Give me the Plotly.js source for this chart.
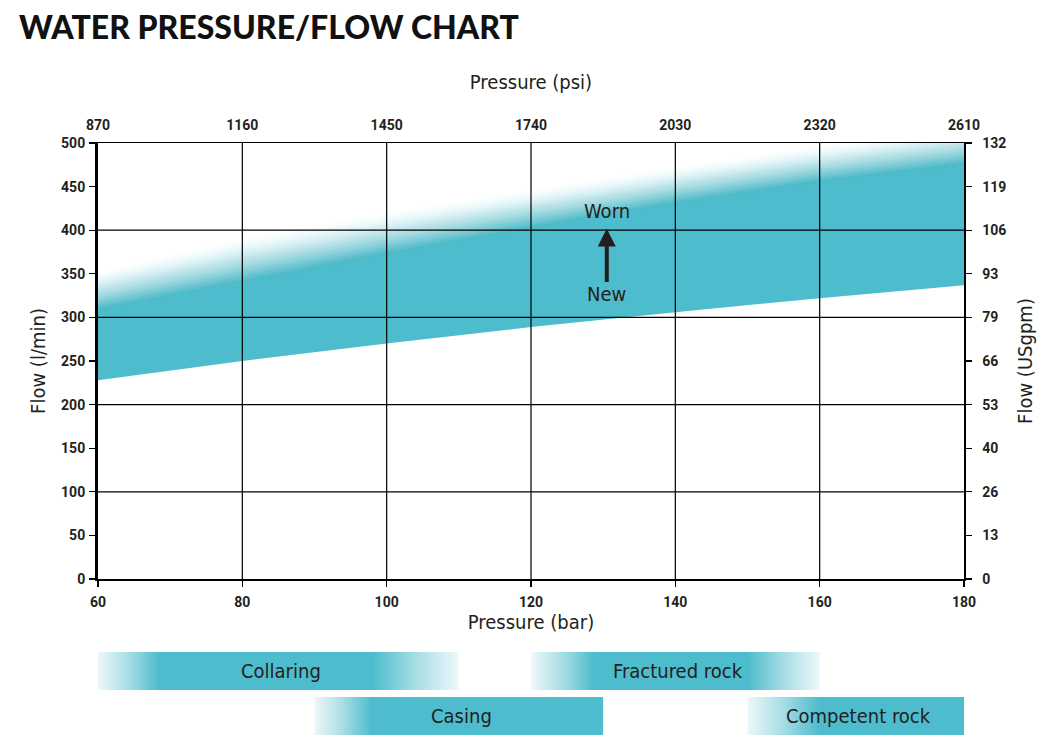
<!DOCTYPE html>
<html>
<head>
<meta charset="utf-8">
<script src="https://cdn.plot.ly/plotly-3.0.1.min.js"></script>
<style>
html,body{margin:0;padding:0;background:#fff;}
#chart{width:1055px;height:750px;}
</style>
</head>
<body>
<div id="chart"></div>
<script>
// ---- data ----
const pressureBar = [60, 80, 100, 120, 140, 160, 180];
const pressurePsi = ['870', '1160', '1450', '1740', '2030', '2320', '2610'];
const flowLmin = [0, 50, 100, 150, 200, 250, 300, 350, 400, 450, 500];
const flowUSgpm = ['0', '13', '26', '40', '53', '66', '79', '93', '106', '119', '132'];
const gridFlow = [100, 200, 300, 400];
const gridPressure = [80, 100, 120, 140, 160];

const bandPressure = [60, 80, 100, 120, 140, 160, 180];
const newFlow = [228, 250, 270, 289, 306, 322, 337];
const wornFlow = [308, 340, 372, 402, 430, 455, 475];
const wornFadeTop = [354, 392, 422, 448, 474, 498, 520];

const arrowPressure = 130.5;
const arrowFrom = 339;
const arrowTo = 402;
const wornLabelFlow = 422;
const newLabelFlow = 327;

const rangeNames = ['Collaring', 'Casing', 'Fractured rock', 'Competent rock'];
const rangeStart = [60, 90, 120, 150];
const rangeEnd = [110, 130, 160, 180];
const rangeRow = [1, 0, 1, 0];
const rangeFadeLeft = [0.17, 0.2, 0.22, 0.33];
const rangeFadeRight = [0.24, 0, 0.25, 0];

// ---- style ----
const TEAL = '#4dbccc';
const TEAL_RGB = '77,188,204';
const DARK = '#231f20';
const FONT = '"DejaVu Sans Condensed", "Roboto", sans-serif';
const TICKFONT = 'Roboto, "DejaVu Sans Condensed", sans-serif';

const traces = [];
// lower edge (new)
traces.push({x: bandPressure, y: newFlow, mode: 'lines', line: {width: 0},
  hoverinfo: 'skip', showlegend: false, xaxis: 'x', yaxis: 'y'});
// solid band up to worn
traces.push({x: bandPressure, y: wornFlow, mode: 'lines', line: {width: 0},
  fill: 'tonexty', fillcolor: TEAL, hoverinfo: 'skip', showlegend: false, xaxis: 'x', yaxis: 'y'});

// fade above the worn edge: overlapping translucent layers, composite alpha follows f(t)
const N = 20;
const f = t => Math.pow(1 - t, 1.5);
const A = [];
for (let j = 1; j <= N; j++) A[j] = f((j - 0.5) / N);
A[N + 1] = 0;
const revX = bandPressure.slice().reverse();
const revWorn = wornFlow.slice().reverse();
for (let j = 1; j <= N; j++) {
  const a = 1 - (1 - A[j]) / (1 - A[j + 1]);
  const t = j / N;
  const top = wornFlow.map((w, i) => w + (wornFadeTop[i] - w) * t);
  traces.push({
    x: bandPressure.concat(revX, [bandPressure[0]]),
    y: top.concat(revWorn, [top[0]]),
    mode: 'lines', line: {width: 0}, fill: 'toself',
    fillcolor: 'rgba(' + TEAL_RGB + ',' + a.toFixed(4) + ')',
    hoverinfo: 'skip', showlegend: false, xaxis: 'x', yaxis: 'y'
  });
}

// range bars in lower subplot
const ROW_H = 1, ROW_GAP = 0.184;
const annotations = [];
rangeNames.forEach((name, i) => {
  const y0 = rangeRow[i] * (ROW_H + ROW_GAP);
  const y1 = y0 + ROW_H;
  const x0 = rangeStart[i], x1 = rangeEnd[i];
  const scale = [[0, '#eef8fa'], [rangeFadeLeft[i] * 0.5, '#a6dde5'], [rangeFadeLeft[i], TEAL]];
  if (rangeFadeRight[i] > 0) {
    scale.push([1 - rangeFadeRight[i], TEAL]);
    scale.push([1 - rangeFadeRight[i] * 0.5, '#a6dde5']);
    scale.push([1, '#eef8fa']);
  } else {
    scale.push([1, TEAL]);
  }
  traces.push({
    x: [x0, x1, x1, x0, x0], y: [y0, y0, y1, y1, y0],
    mode: 'lines', line: {width: 0}, fill: 'toself',
    fillgradient: {type: 'horizontal', colorscale: scale, start: x0, stop: x1},
    hoverinfo: 'skip', showlegend: false, xaxis: 'x3', yaxis: 'y3'
  });
  annotations.push({
    x: (x0 + x1) / 2, y: (y0 + y1) / 2, xref: 'x3', yref: 'y3', xshift: 3,
    text: name, showarrow: false, font: {family: FONT, size: 20, color: DARK}
  });
});

// arrow & labels
annotations.push({
  x: arrowPressure, y: arrowTo, ax: arrowPressure, ay: arrowFrom,
  xref: 'x', yref: 'y', axref: 'x', ayref: 'y', text: '', showarrow: true,
  arrowhead: 2, arrowsize: 0.9, arrowwidth: 4, arrowcolor: DARK
});
annotations.push({x: arrowPressure, y: wornLabelFlow, xref: 'x', yref: 'y', text: 'Worn',
  showarrow: false, font: {family: FONT, size: 20, color: DARK}});
annotations.push({x: arrowPressure, y: newLabelFlow, xref: 'x', yref: 'y', text: 'New',
  showarrow: false, font: {family: FONT, size: 20, color: DARK}});

// gridlines above the band
const shapes = [];
gridFlow.forEach(v => shapes.push({type: 'line', xref: 'x', yref: 'y', x0: 60, x1: 180, y0: v, y1: v,
  layer: 'above', line: {color: '#000', width: 1.2}}));
gridPressure.forEach(v => shapes.push({type: 'line', xref: 'x', yref: 'y', x0: v, x1: v, y0: 0, y1: 500,
  layer: 'above', line: {color: '#000', width: 1.2}}));

const tickFont = {family: TICKFONT, size: 14, color: DARK, weight: 'bold'};
const titleFont = {family: FONT, size: 20, color: DARK};

const layout = {
  width: 1055, height: 750,
  margin: {l: 98, r: 91, t: 143, b: 15},
  paper_bgcolor: '#fff', plot_bgcolor: 'rgba(0,0,0,0)',
  showlegend: false,
  title: {
    text: 'WATER PRESSURE/FLOW CHART', x: 0.018, xanchor: 'left', xref: 'container',
    y: 0.963, yanchor: 'middle', yref: 'container',
    font: {family: 'Lato, "DejaVu Sans", sans-serif', size: 32, weight: 900, color: '#111'}
  },
  xaxis: {
    range: [60, 180], domain: [0, 1], tickvals: pressureBar, ticktext: pressureBar.map(String),
    ticks: 'outside', ticklen: 6, tickwidth: 1.2, tickcolor: '#000', showgrid: false, zeroline: false,
    showline: true, linecolor: '#000', linewidth: 1.5, tickfont: tickFont, ticklabelstandoff: 4,
    title: {text: 'Pressure (bar)', font: titleFont, standoff: 3}, anchor: 'y'
  },
  xaxis2: {
    range: [60, 180], overlaying: 'x', side: 'top', anchor: 'y', tickvals: pressureBar, ticktext: pressurePsi,
    ticks: '', showgrid: false, zeroline: false, showline: true, linecolor: '#000', linewidth: 1.5,
    tickfont: tickFont, ticklabelstandoff: 6,
    title: {text: 'Pressure (psi)', font: titleFont, standoff: 22}
  },
  yaxis: {
    range: [0, 500], domain: [0.2635, 1], tickvals: flowLmin, ticktext: flowLmin.map(String),
    ticks: 'outside', ticklen: 6, tickwidth: 1.2, tickcolor: '#000', showgrid: false, zeroline: false,
    showline: true, linecolor: '#000', linewidth: 3, tickfont: tickFont, ticklabelstandoff: 1,
    title: {text: 'Flow (l/min)', font: titleFont, standoff: 11}, anchor: 'x'
  },
  yaxis2: {
    range: [0, 500], overlaying: 'y', side: 'right', anchor: 'x', tickvals: flowLmin, ticktext: flowUSgpm,
    ticks: 'outside', ticklen: 6, tickwidth: 1.2, tickcolor: '#000', showgrid: false, zeroline: false,
    showline: true, linecolor: '#000', linewidth: 1.5, tickfont: tickFont, ticklabelstandoff: 8,
    title: {text: 'Flow (USgpm)', font: titleFont, standoff: 12}
  },
  xaxis3: {range: [60, 180], domain: [0, 1], anchor: 'y3', visible: false, fixedrange: true},
  yaxis3: {range: [0, 2 * ROW_H + ROW_GAP], domain: [0, 0.1402], anchor: 'x3', visible: false, fixedrange: true},
  shapes: shapes,
  annotations: annotations
};

// invisible trace to activate secondary axes
traces.push({x: [60], y: [0], xaxis: 'x2', yaxis: 'y2', mode: 'markers', marker: {opacity: 0},
  hoverinfo: 'skip', showlegend: false});

Plotly.newPlot('chart', traces, layout, {displayModeBar: false, staticPlot: true});
</script>
</body>
</html>
